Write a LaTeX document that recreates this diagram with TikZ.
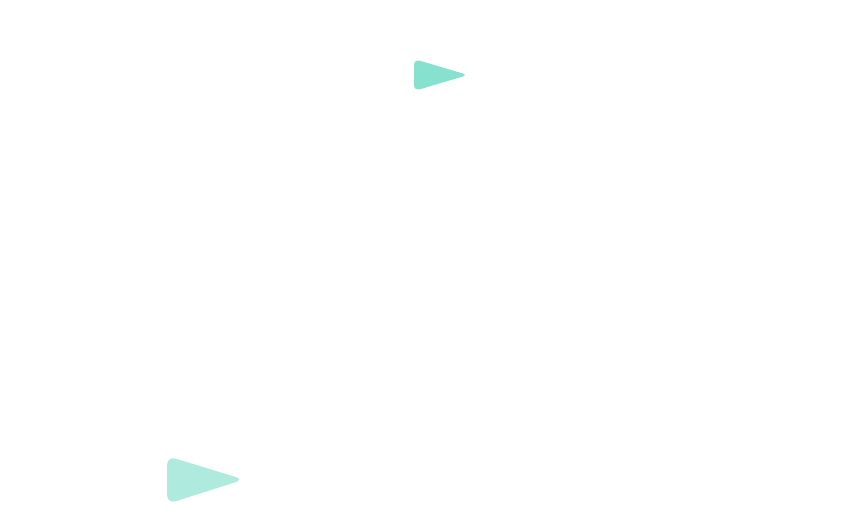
\documentclass[tikz,border=0pt]{standalone}
\usepackage{tikz}
\definecolor{mint}{HTML}{86E1CE}
\definecolor{palemint}{HTML}{AEEADD}
\tikzset{tip/.style={fill=#1, draw=none},
tip/.default={mint}}

\begin{document}
\begin{tikzpicture}[x=1pt, y=-1pt]
\useasboundingbox (0,0) rectangle (863,530);
%\draw[step=50pt,color=gray] (0,0) grid (863,530);
% small marker at the top
\fill[tip] (414,75) [rounded corners=6pt] -- (414,59) -- (468,75) [rounded corners=6pt] -- (414,91) -- cycle;
% larger marker at the bottom
\fill[tip=palemint] (167,480) [rounded corners=9pt] -- (167,456) -- (244,479.5) [rounded corners=9pt] -- (167,504) -- cycle;
\end{tikzpicture}
\end{document}
